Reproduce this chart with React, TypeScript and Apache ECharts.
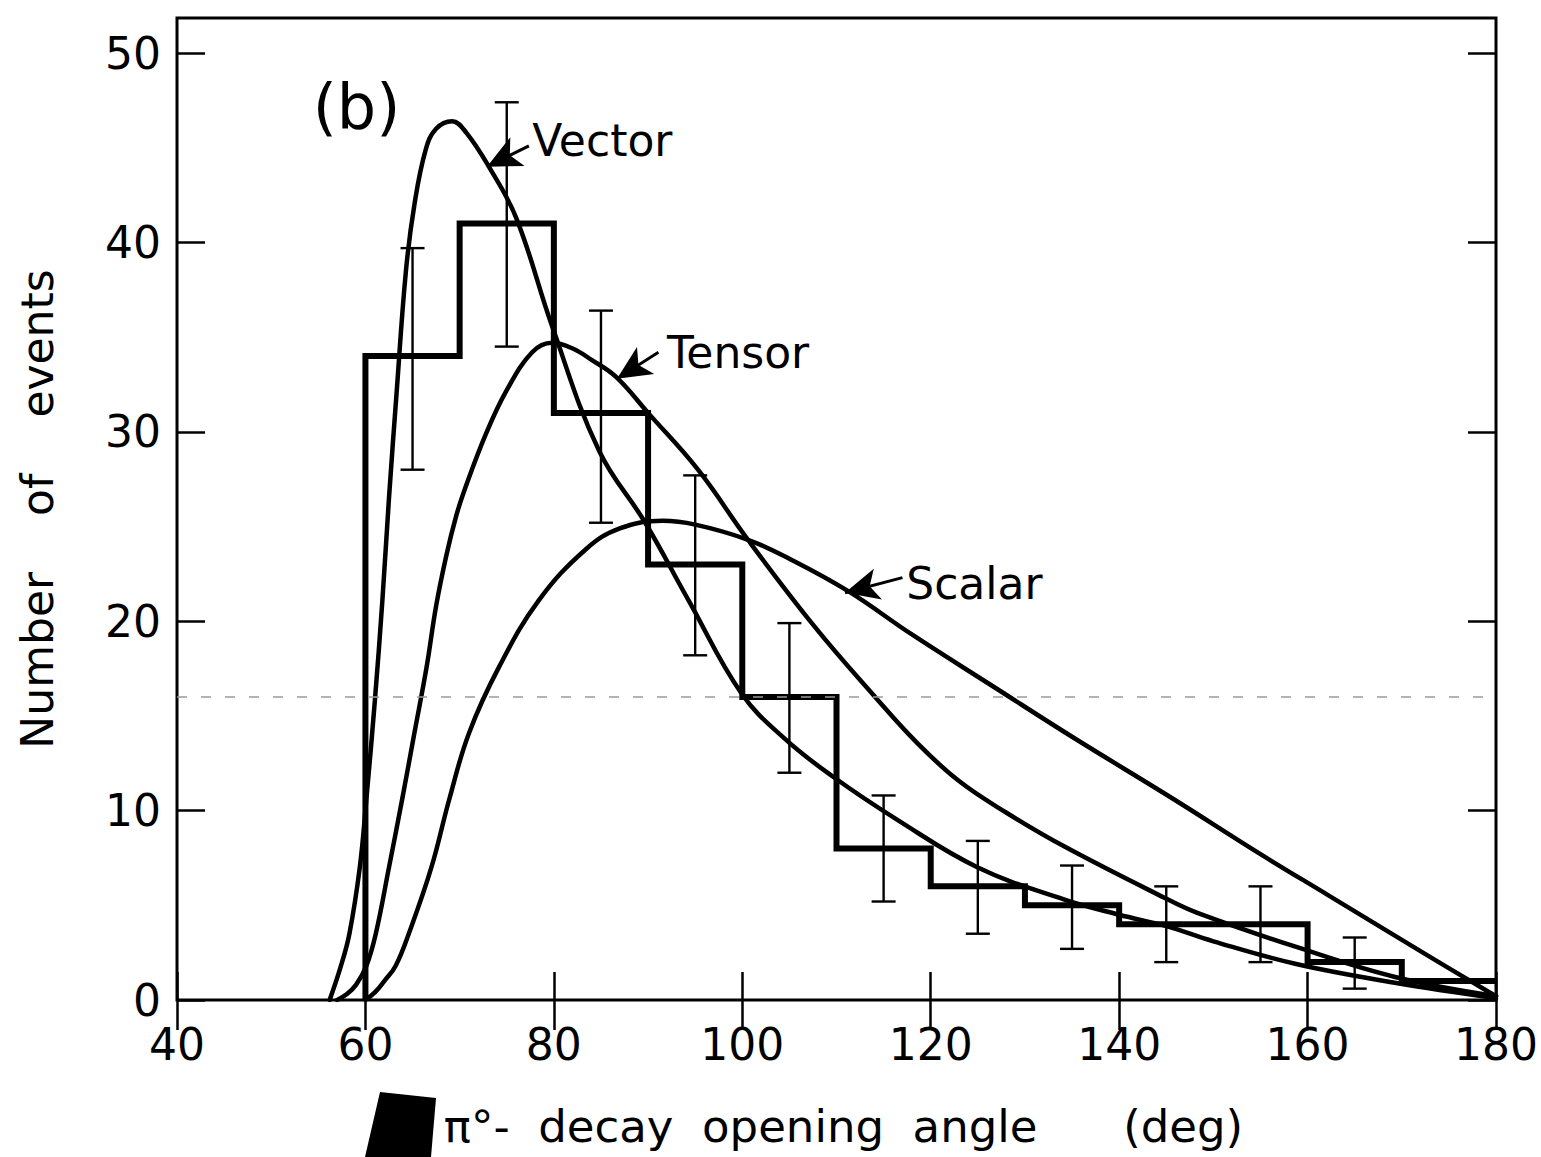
import React, { useEffect, useRef } from "react";
import * as echarts from "echarts";

// Histogram: bin left edges and counts (bins of 10 deg)
const binEdges = [60, 70, 80, 90, 100, 110, 120, 130, 140, 150, 160, 170, 180];
const binCounts = [34, 41, 31, 23, 16, 8, 6, 5, 4, 4, 2, 1];

// Error bars at bin centres
const errX = [65, 75, 85, 95, 105, 115, 125, 135, 145, 155, 165];
const errLow = [28.0, 34.5, 25.2, 18.2, 12.0, 5.2, 3.5, 2.7, 2.0, 2.0, 0.6];
const errHigh = [39.7, 47.4, 36.4, 27.7, 19.9, 10.8, 8.4, 7.1, 6.0, 6.0, 3.3];

// Theoretical curves
const vectorX = [56.2, 57.4, 58.3, 59.4, 60.1, 61.0, 61.8, 62.5, 63.3, 64.3, 65.2, 66.4, 67.5, 69.2, 70.7, 73.1, 76.0, 79.8, 84.8, 89.7, 94.3, 99.9, 104.5, 109.6, 116.5, 125.0, 134.2, 140, 145, 150, 158.8, 169.4, 180];
const vectorY = [0, 1.8, 3.5, 7.0, 10.6, 15.8, 21.1, 26.5, 32.0, 38.5, 42.0, 44.9, 46.0, 46.4, 45.8, 44.0, 41.3, 35.6, 29.0, 25.2, 21.1, 16.2, 13.8, 11.8, 9.5, 7.0, 5.3, 4.5, 3.9, 3.1, 1.9, 0.9, 0.1];

const tensorX = [57.0, 58.0, 59.0, 60.1, 61.1, 62.5, 63.9, 65.2, 66.5, 67.5, 68.6, 69.6, 70.5, 72.8, 75.0, 77.7, 79.8, 82.0, 84.0, 86.6, 90.0, 95.3, 100.6, 107.7, 114.1, 118.5, 122.9, 128.0, 134.2, 144.8, 148.3, 158.8, 169.4, 180];
const tensorY = [0, 0.3, 0.8, 1.8, 3.5, 7.0, 10.6, 14.1, 17.6, 20.8, 23.5, 25.5, 26.9, 29.9, 32.2, 34.2, 34.7, 34.4, 33.8, 32.9, 31.0, 28.0, 24.3, 19.7, 16.0, 13.6, 11.6, 9.9, 8.1, 5.4, 4.6, 2.8, 1.2, 0.2];

const scalarX = [60.0, 61.0, 62.0, 63.2, 64.6, 67.0, 68.9, 71.0, 74.2, 78.4, 83.4, 87.0, 91.5, 95.0, 100.6, 105.0, 111.2, 118.0, 126.8, 135.0, 145.8, 155.0, 162.3, 172.9, 180];
const scalarY = [0, 0.4, 1.0, 1.8, 3.5, 7.0, 10.6, 14.1, 17.6, 21.1, 23.8, 24.9, 25.3, 25.1, 24.3, 23.3, 21.6, 19.3, 16.5, 13.9, 10.6, 7.7, 5.5, 2.3, 0.2];

// Annotation labels: [x, y] of label left-middle, arrow tail and arrow tip
const labelNames = ["Vector", "Tensor", "Scalar"];
const labelPos = [[77.7, 45.4], [92.0, 34.2], [117.4, 22.0]];
const arrowTail = [[77.35, 45.1], [91.1, 34.2], [117.0, 22.3]];
const arrowTip = [[72.9, 44.0], [86.7, 32.8], [110.9, 21.5]];
const panelLabel = "(b)";
const panelPos = [54.4, 47.2];

const xTicks = [40, 60, 80, 100, 120, 140, 160, 180];
const yTicks = [0, 10, 20, 30, 40, 50];

const FONT = "DejaVu Sans";

const zip = (xs: number[], ys: number[]) => xs.map((x, i) => [x, ys[i]]);

export default function App() {
  const ref = useRef<HTMLDivElement>(null);
  useEffect(() => {
    if (!ref.current) return;
    const chart = echarts.init(ref.current, undefined, { renderer: "svg" });

    const histData: number[][] = [[binEdges[0], 0]];
    binEdges.forEach((e, i) => {
      const c = i < binCounts.length ? binCounts[i] : binCounts[binCounts.length - 1];
      histData.push([e, c]);
    });

    const curveStyle = { color: "#000", width: 4.5, cap: "round", join: "round" };
    const axisCommon = {
      type: "value" as const,
      min: 40,
      max: 180,
      interval: 20,
      splitLine: { show: false },
      axisLine: { show: false },
    };
    const yCommon = {
      type: "value" as const,
      min: 0,
      max: 51.85,
      interval: 10,
      splitLine: { show: false },
      axisLine: { show: false },
    };

    const curve = (name: string, xs: number[], ys: number[]) => ({
      name,
      type: "line",
      data: zip(xs, ys),
      smooth: 0.4,
      symbol: "none",
      lineStyle: curveStyle,
      z: 3,
    });

    chart.setOption({
      animation: false,
      backgroundColor: "#fff",
      textStyle: { fontFamily: FONT, color: "#000" },
      grid: {
        left: 177,
        right: 43,
        top: 18,
        bottom: 157,
        show: true,
        borderColor: "#000",
        borderWidth: 3,
        backgroundColor: "transparent",
      },
      xAxis: [
        {
          ...axisCommon,
          position: "bottom",
          axisTick: { show: true, inside: true, length: 28, lineStyle: { color: "#000", width: 2.5 }, customValues: xTicks },
          axisLabel: { show: true, fontSize: 44, color: "#000", margin: 22, fontFamily: FONT, customValues: xTicks },
          name: "π°-  decay  opening  angle      (deg)",
          nameLocation: "middle",
          nameGap: 104,
          nameTextStyle: { fontSize: 45, color: "#000", fontFamily: FONT, padding: [0, 0, 0, 14] },
        },
        {
          ...axisCommon,
          position: "top",
          axisTick: { show: true, inside: true, length: 30, lineStyle: { color: "#000", width: 2.5 }, customValues: xTicks },
          axisLabel: { show: false },
        },
      ],
      yAxis: [
        {
          ...yCommon,
          position: "left",
          axisTick: { show: true, inside: true, length: 28, lineStyle: { color: "#000", width: 2.5 }, customValues: yTicks },
          axisLabel: { show: true, fontSize: 44, color: "#000", margin: 16, fontFamily: FONT, customValues: yTicks },
          name: "Number    of    events",
          nameLocation: "middle",
          nameGap: 118,
          nameTextStyle: { fontSize: 44, color: "#000", fontFamily: FONT },
        },
        {
          ...yCommon,
          position: "right",
          axisTick: { show: true, inside: true, length: 28, lineStyle: { color: "#000", width: 2.5 }, customValues: yTicks },
          axisLabel: { show: false },
        },
      ],
      series: [
        {
          name: "data",
          type: "line",
          step: "end",
          data: histData,
          symbol: "none",
          lineStyle: { color: "#000", width: 6, join: "miter" },
          z: 4,
          markLine: {
            silent: true,
            symbol: ["none", "none"],
            label: { show: false },
            lineStyle: { color: "#9a9a9a", width: 1.5, type: [10, 14] },
            data: [{ yAxis: 16 }],
          },
        },
        curve("Vector", vectorX, vectorY),
        curve("Tensor", tensorX, tensorY),
        curve("Scalar", scalarX, scalarY),
        {
          name: "errors",
          type: "custom",
          data: errX.map((x, i) => [x, errLow[i], errHigh[i]]),
          encode: { x: 0, y: [1, 2] },
          z: 5,
          renderItem: (_params: any, api: any) => {
            const x = api.value(0);
            const lo = api.coord([x, api.value(1)]);
            const hi = api.coord([x, api.value(2)]);
            const hw = 12;
            const style = { stroke: "#000", lineWidth: 2.4, fill: "none" };
            return {
              type: "group",
              children: [
                { type: "line", shape: { x1: lo[0], y1: lo[1], x2: hi[0], y2: hi[1] }, style },
                { type: "line", shape: { x1: lo[0] - hw, y1: lo[1], x2: lo[0] + hw, y2: lo[1] }, style },
                { type: "line", shape: { x1: hi[0] - hw, y1: hi[1], x2: hi[0] + hw, y2: hi[1] }, style },
              ],
            };
          },
        },
        {
          name: "labels",
          type: "scatter",
          symbolSize: 0,
          z: 6,
          silent: true,
          itemStyle: { opacity: 1, color: "#000" },
          data: [
            ...labelNames.map((n, i) => ({ name: n, value: labelPos[i] })),
            {
              name: panelLabel,
              value: panelPos,
              label: { fontSize: 62 },
            },
          ],
          label: {
            show: true,
            position: "right",
            distance: 0,
            formatter: "{b}",
            fontSize: 44,
            color: "#000",
            opacity: 1,
            fontFamily: FONT,
          },
          markLine: {
            silent: true,
            symbol: ["none", "arrow"],
            label: { show: false },
            lineStyle: { color: "#000", width: 3, type: "solid", opacity: 1 },
            data: arrowTail.map((t, i) => [
              { coord: t, symbol: "none" },
              { coord: arrowTip[i], symbol: "arrow", symbolSize: [24, 34] },
            ]),
          },
        },
      ],
      graphic: [
        {
          type: "polygon",
          silent: true,
          shape: { points: [[380, 1092], [436, 1098], [431, 1157], [365, 1157]] },
          style: { fill: "#000" },
        },
      ],
    });

    return () => chart.dispose();
  }, []);

  return (
    <div
      ref={ref}
      style={{ position: "fixed", left: 0, top: 0, width: 1541, height: 1157, background: "#fff" }}
    />
  );
}
